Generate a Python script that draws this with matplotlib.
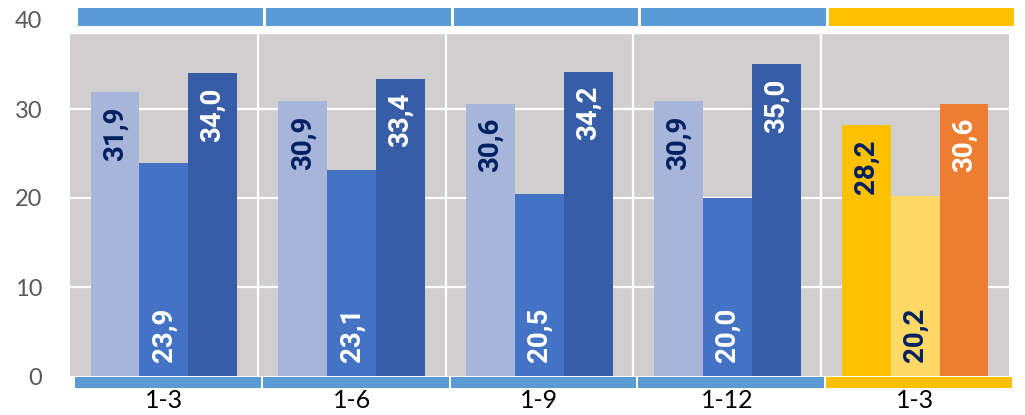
import numpy as np
import matplotlib.pyplot as plt
import matplotlib.transforms as mtransforms
from matplotlib.patches import Rectangle

plt.rcParams['font.family'] = ['Lato', 'DejaVu Sans']

groups = ['1-3', '1-6', '1-9', '1-12', '1-3']
light = [31.9, 30.9, 30.6, 30.9, 28.2]
mid = [23.9, 23.1, 20.5, 20.0, 20.2]
dark = [34.0, 33.4, 34.2, 35.0, 30.6]

blue_cols = ['#A7B5DB', '#4472C4', '#365DA6']
yellow_cols = ['#FFC000', '#FFD966', '#ED7D31']
navy = '#002060'

fig = plt.figure(figsize=(10.25, 4.15), dpi=100)
ax = fig.add_axes([70/1025, 39/415, 939/1025, 356/415])
ax.set_facecolor('#D0CECE')
for s in ax.spines.values():
    s.set_visible(False)

x = np.arange(len(groups))
w = 0.26
series = [light, mid, dark]
offs = [-w, 0, w]
lbl = dict(rotation=90, ha='center', fontsize=20, fontweight='bold',
           family=['Roboto', 'DejaVu Sans'], zorder=4)

for j, (vals, off) in enumerate(zip(series, offs)):
    for i, v in enumerate(vals):
        last = i == len(groups) - 1
        col = yellow_cols[j] if last else blue_cols[j]
        ax.bar(x[i] + off, v, w, color=col, zorder=3)
        txt = f"{v:.1f}".replace('.', ',')
        if j == 0:
            ax.text(x[i] + off, v - 1.6, txt, va='top', color=navy, **lbl)
        elif j == 1:
            ax.text(x[i] + off, 1.6, txt, va='bottom',
                    color=navy if last else 'white', **lbl)
        else:
            ax.text(x[i] + off, v - 1.6, txt, va='top', color='white', **lbl)

ax.set_xlim(-0.5, len(groups) - 0.5)
ax.set_ylim(0, 40)
ax.set_yticks([0, 10, 20, 30, 40])
ax.tick_params(axis='y', length=0, labelsize=17, labelcolor='#595959', pad=20)
ax.set_xticks(x)
ax.set_xticklabels(groups)
ax.tick_params(axis='x', length=0, labelsize=18, pad=9)
for yv in [10, 20, 30]:
    ax.axhline(yv, color='white', lw=1.6, zorder=1)
for xv in [0.5, 1.5, 2.5, 3.5]:
    ax.axvline(xv, color='white', lw=1.6, zorder=1)

# header / footer strips
trans = mtransforms.blended_transform_factory(ax.transData, ax.transAxes)
ax.add_patch(Rectangle((-0.5, 0.9635), 5.2, 0.1, transform=trans, color='white',
                       clip_on=False, zorder=5))
for i in range(len(groups)):
    col = '#FFC000' if i == len(groups) - 1 else '#5B9BD5'
    ax.add_patch(Rectangle((i - 0.457, 0.983), 0.984, 0.051, transform=trans,
                           facecolor=col, edgecolor='none', clip_on=False, zorder=6))
    ax.add_patch(Rectangle((i - 0.473, -0.034), 0.989, 0.031, transform=trans,
                           facecolor=col, edgecolor='none', clip_on=False, zorder=6))

fig.savefig('out.png', dpi=100)
